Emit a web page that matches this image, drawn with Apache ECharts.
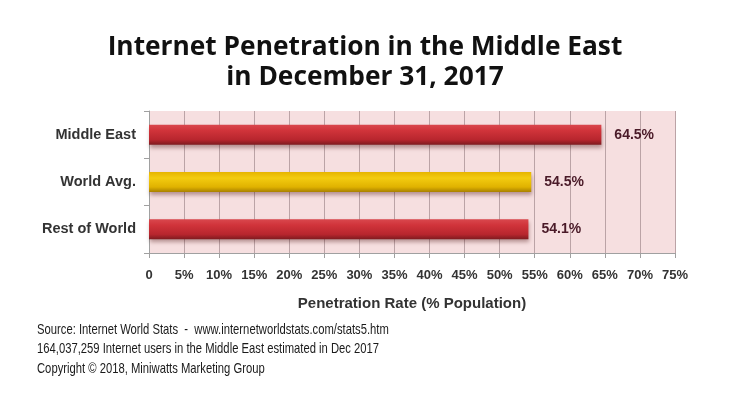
<!DOCTYPE html>
<html><head><meta charset="utf-8">
<script src="https://cdn.jsdelivr.net/npm/echarts@6/dist/echarts.min.js"></script>
<style>html,body{margin:0;padding:0;background:#fff}#c{width:730px;height:410px}</style>
</head><body><div id="c"></div>
<script>
const categories = ['Middle East', 'World Avg.', 'Rest of World'];
const values = [64.5, 54.5, 54.1];
const valueLabels = ['64.5%', '54.5%', '54.1%'];
const tickLabels = ['0', '5%', '10%', '15%', '20%', '25%', '30%', '35%', '40%', '45%', '50%', '55%', '60%', '65%', '70%', '75%'];
const sourceLines = [
  'Source: Internet World Stats  -  www.internetworldstats.com/stats5.htm',
  '164,037,259 Internet users in the Middle East estimated in Dec 2017',
  'Copyright \u00A9 2018, Miniwatts Marketing Group'
];

const red = new echarts.graphic.LinearGradient(0,0,0,1,[
  {offset:0,color:'#d9474d'},{offset:0.3,color:'#d0333a'},{offset:0.75,color:'#b8262e'},{offset:1,color:'#7e1a1f'}]);
const yellow = new echarts.graphic.LinearGradient(0,0,0,1,[
  {offset:0,color:'#e6b400'},{offset:0.3,color:'#f3cc10'},{offset:0.75,color:'#e0b200'},{offset:1,color:'#a88000'}]);
const colors = [red, yellow, red];

const chart = echarts.init(document.getElementById('c'));
chart.setOption({
  backgroundColor: '#ffffff',
  animation: false,
  title: {
    text: 'Internet Penetration in the Middle East\nin December 31, 2017',
    left: 'center', top: 27,
    textStyle: {fontFamily: 'Open Sans', fontWeight: 'bold', fontSize: 26.3, lineHeight: 30.5, color: '#111'}
  },
  grid: {left: 149, right: 55, top: 111, height: 142, show: true, backgroundColor: '#f6dfe0', borderWidth: 0},
  xAxis: {
    type: 'value', min: 0, max: 75, interval: 5,
    name: 'Penetration Rate (% Population)', nameLocation: 'middle', nameGap: 43,
    nameTextStyle: {fontFamily: 'Liberation Sans', fontWeight: 'bold', fontSize: 15, color: '#333'},
    axisLine: {show: true, lineStyle: {color: '#a0a0a0'}},
    axisTick: {show: true, length: 5, lineStyle: {color: '#a0a0a0'}},
    axisLabel: {
      margin: 16, fontFamily: 'Liberation Sans', fontWeight: 'bold', fontSize: 13, color: '#333',
      formatter: (v) => tickLabels[Math.round(v / 5)]
    },
    splitLine: {show: true, lineStyle: {color: '#bba3a6', width: 1}}
  },
  yAxis: {
    type: 'category', data: categories, inverse: true,
    axisLine: {show: true, lineStyle: {color: '#a0a0a0'}},
    axisTick: {show: true, length: 5, lineStyle: {color: '#a0a0a0'}},
    axisLabel: {margin: 13, fontFamily: 'Liberation Sans', fontWeight: 'bold', fontSize: 14.5, color: '#333'}
  },
  series: [{
    type: 'bar', barWidth: 20,
    data: values.map((v, i) => ({value: v, itemStyle: {color: colors[i]}})),
    itemStyle: {shadowColor: 'rgba(60,0,0,0.35)', shadowBlur: 4, shadowOffsetY: 3, shadowOffsetX: 1},
    label: {
      show: true, position: 'right', distance: 13,
      formatter: (p) => valueLabels[p.dataIndex],
      fontFamily: 'Liberation Sans', fontWeight: 'bold', fontSize: 14, color: '#4a1a28'
    }
  }],
  graphic: sourceLines.map((t, i) => ({
    type: 'text', x: 37, y: 322 + i * 19.5, scaleX: 0.75,
    style: {text: t, fontFamily: 'Liberation Sans', fontSize: 15, fill: '#1a1a1a'}
  }))
});
</script></body></html>
